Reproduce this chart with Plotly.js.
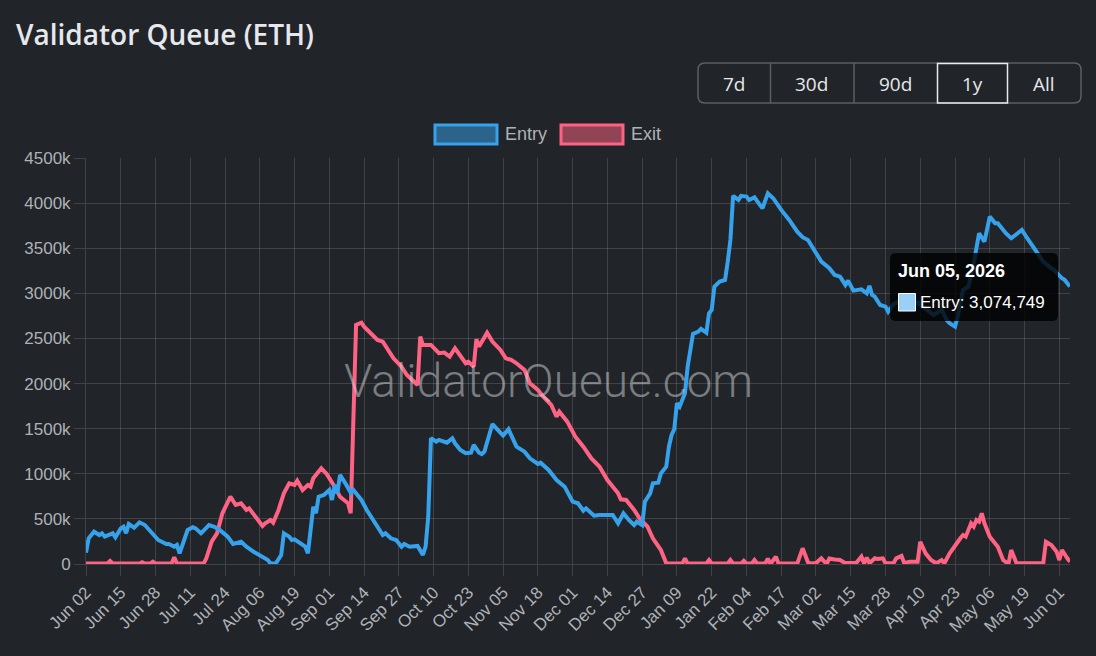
<!DOCTYPE html>
<html><head><meta charset="utf-8">
<script src="https://cdn.plot.ly/plotly-3.0.1.min.js"></script>
<style>html,body{margin:0;padding:0;background:#212428;}#chart{width:1096px;height:656px;}</style>
</head><body><div id="chart"></div>
<script>
// ---- data ----
const entryDates = ["2025-06-02","2025-06-03","2025-06-05","2025-06-07","2025-06-08","2025-06-09","2025-06-12","2025-06-13","2025-06-15","2025-06-16","2025-06-17","2025-06-18","2025-06-20","2025-06-22","2025-06-24","2025-06-27","2025-06-29",
"2025-07-02","2025-07-03","2025-07-05","2025-07-06","2025-07-07","2025-07-10","2025-07-12","2025-07-13","2025-07-15","2025-07-17","2025-07-18","2025-07-20","2025-07-22","2025-07-25","2025-07-27","2025-07-30",
"2025-08-01","2025-08-04","2025-08-06","2025-08-09","2025-08-10","2025-08-12","2025-08-14","2025-08-15","2025-08-17","2025-08-18","2025-08-19","2025-08-21","2025-08-23","2025-08-24","2025-08-26","2025-08-27","2025-08-28","2025-08-30",
"2025-09-01","2025-09-02","2025-09-03","2025-09-04","2025-09-05","2025-09-07","2025-09-09","2025-09-10","2025-09-13","2025-09-15","2025-09-18","2025-09-21","2025-09-22","2025-09-24","2025-09-26","2025-09-28","2025-09-29",
"2025-10-01","2025-10-04","2025-10-05","2025-10-06","2025-10-07","2025-10-08","2025-10-09","2025-10-11","2025-10-12","2025-10-15","2025-10-17","2025-10-18","2025-10-20","2025-10-22","2025-10-24","2025-10-25","2025-10-27","2025-10-28","2025-10-29",
"2025-11-01","2025-11-03","2025-11-05","2025-11-07","2025-11-10","2025-11-13","2025-11-15","2025-11-18","2025-11-19","2025-11-22","2025-11-25","2025-11-28",
"2025-12-01","2025-12-03","2025-12-05","2025-12-06","2025-12-08","2025-12-09","2025-12-11","2025-12-16","2025-12-18","2025-12-20","2025-12-22","2025-12-24","2025-12-25","2025-12-27","2025-12-28","2025-12-30","2025-12-31",
"2026-01-02","2026-01-03","2026-01-05","2026-01-06","2026-01-07","2026-01-08","2026-01-09","2026-01-10","2026-01-12","2026-01-13","2026-01-15","2026-01-17","2026-01-18","2026-01-20","2026-01-21","2026-01-22","2026-01-23","2026-01-25","2026-01-27","2026-01-28","2026-01-29","2026-01-30",
"2026-02-01","2026-02-02","2026-02-04","2026-02-05","2026-02-07","2026-02-09","2026-02-10","2026-02-12","2026-02-14","2026-02-17","2026-02-20","2026-02-23","2026-02-25","2026-02-27",
"2026-03-02","2026-03-04","2026-03-07","2026-03-09","2026-03-11","2026-03-13","2026-03-14","2026-03-16","2026-03-19","2026-03-21","2026-03-22","2026-03-23","2026-03-24","2026-03-26","2026-03-28","2026-03-29","2026-03-31",
"2026-04-03","2026-04-06","2026-04-09","2026-04-12","2026-04-15","2026-04-18","2026-04-20","2026-04-21","2026-04-23","2026-04-24","2026-04-26","2026-04-28","2026-04-30",
"2026-05-02","2026-05-04","2026-05-06","2026-05-08","2026-05-09","2026-05-12","2026-05-14","2026-05-18","2026-05-20","2026-05-23","2026-05-26","2026-05-29","2026-05-30",
"2026-06-02","2026-06-03","2026-06-05"];
const entryValues = [125000,285000,358000,321000,340000,303000,340000,296000,395000,413000,340000,443000,403000,462000,432000,340000,266000,
222000,222000,192000,211000,118000,377000,407000,395000,340000,413000,432000,413000,377000,303000,222000,247000,
192000,130000,100000,44000,5000,8000,100000,340000,303000,266000,273000,229000,192000,118000,635000,562000,746000,765000,
820000,710000,876000,783000,987000,894000,790000,820000,710000,599000,451000,321000,340000,285000,266000,192000,222000,
192000,200000,155000,100000,192000,524000,1393000,1356000,1375000,1345000,1393000,1338000,1264000,1227000,1234000,1319000,1234000,1219000,1245000,
1552000,1486000,1423000,1493000,1300000,1245000,1171000,1109000,1123000,1042000,931000,857000,
691000,673000,591000,617000,562000,535000,543000,543000,451000,562000,488000,432000,469000,432000,691000,783000,894000,
901000,1005000,1079000,1300000,1430000,1493000,1781000,1744000,1892000,2187000,2550000,2575000,2605000,2564000,2779000,2816000,3074000,3130000,3149000,3352000,3592000,4080000,
4035000,4080000,4072000,4035000,4065000,3980000,3943000,4109000,4054000,3925000,3814000,3684000,3622000,3592000,
3445000,3352000,3278000,3204000,3185000,3093000,3141000,3030000,3045000,3001000,3082000,2982000,2963000,2871000,2853000,2797000,2880000,
2920000,2860000,2900000,2830000,2760000,2816000,2700000,2668000,2631000,2742000,3038000,3074000,3334000,
3666000,3574000,3851000,3777000,3777000,3666000,3611000,3703000,3611000,3482000,3352000,3278000,3260000,
3167000,3149000,3074749];

const exitDates = ["2025-06-02","2025-06-10","2025-06-11","2025-06-12","2025-06-22","2025-06-23","2025-06-24","2025-06-26","2025-06-27","2025-06-28",
"2025-07-04","2025-07-05","2025-07-06","2025-07-16","2025-07-17","2025-07-19","2025-07-21","2025-07-23","2025-07-26","2025-07-28","2025-07-30",
"2025-08-01","2025-08-02","2025-08-05","2025-08-07","2025-08-08","2025-08-10","2025-08-11","2025-08-13","2025-08-15","2025-08-17","2025-08-19","2025-08-20","2025-08-22","2025-08-24","2025-08-25","2025-08-26","2025-08-29","2025-08-31",
"2025-09-03","2025-09-05","2025-09-08","2025-09-09","2025-09-11","2025-09-13","2025-09-14","2025-09-17","2025-09-19","2025-09-21","2025-09-23","2025-09-25","2025-09-28","2025-09-30",
"2025-10-02","2025-10-04","2025-10-05","2025-10-06","2025-10-09","2025-10-11","2025-10-12","2025-10-14","2025-10-16","2025-10-18","2025-10-20","2025-10-22","2025-10-23","2025-10-25","2025-10-26","2025-10-27","2025-10-30",
"2025-11-01","2025-11-04","2025-11-06","2025-11-08","2025-11-10","2025-11-13","2025-11-15","2025-11-18","2025-11-20","2025-11-23","2025-11-25","2025-11-26","2025-11-29",
"2025-12-02","2025-12-05","2025-12-08","2025-12-11","2025-12-14","2025-12-16","2025-12-18","2025-12-19","2025-12-21","2025-12-24","2025-12-26","2025-12-29","2025-12-31",
"2026-01-03","2026-01-05","2026-01-11","2026-01-12","2026-01-13","2026-01-20","2026-01-21","2026-01-22","2026-01-28","2026-01-29","2026-01-30",
"2026-02-02","2026-02-03","2026-02-04","2026-02-06","2026-02-07","2026-02-08","2026-02-11","2026-02-12","2026-02-13","2026-02-15","2026-02-16","2026-02-23","2026-02-25","2026-02-27","2026-02-28",
"2026-03-02","2026-03-04","2026-03-06","2026-03-07","2026-03-09","2026-03-11","2026-03-13","2026-03-15","2026-03-17","2026-03-19","2026-03-20","2026-03-21","2026-03-22","2026-03-24","2026-03-25","2026-03-27","2026-03-28","2026-03-31",
"2026-04-01","2026-04-03","2026-04-04","2026-04-06","2026-04-09","2026-04-10","2026-04-12","2026-04-14","2026-04-16","2026-04-18","2026-04-19","2026-04-21","2026-04-23","2026-04-25","2026-04-26","2026-04-27","2026-04-29","2026-04-30",
"2026-05-01","2026-05-02","2026-05-03","2026-05-04","2026-05-06","2026-05-09","2026-05-11","2026-05-13","2026-05-14","2026-05-16","2026-05-26","2026-05-27","2026-05-29","2026-05-31",
"2026-06-01","2026-06-02","2026-06-04","2026-06-05"];
const exitValues = [5000,5000,33000,5000,5000,20000,5000,5000,25000,5000,
5000,74000,5000,5000,63000,247000,340000,562000,746000,654000,673000,
599000,617000,507000,421000,451000,488000,458000,599000,783000,894000,876000,924000,820000,876000,857000,950000,1061000,998000,
857000,746000,673000,562000,2650000,2675000,2631000,2539000,2483000,2465000,2373000,2280000,2187000,2095000,
2040000,1985000,2520000,2428000,2428000,2373000,2336000,2343000,2298000,2391000,2298000,2225000,2243000,2187000,2491000,2410000,2564000,
2465000,2373000,2280000,2262000,2225000,2151000,2003000,1929000,1855000,1763000,1633000,1688000,1578000,
1411000,1300000,1171000,1080000,931000,857000,783000,717000,710000,599000,507000,414000,285000,
155000,8000,5000,63000,5000,5000,44000,5000,5000,44000,5000,
5000,35000,5000,5000,44000,5000,5000,60000,0,81000,5000,5000,174000,20000,5000,
10000,63000,0,60000,50000,45000,10000,10000,10000,81000,8000,70000,8000,63000,55000,63000,8000,8000,
63000,89000,10000,25000,25000,247000,118000,44000,8000,44000,8000,118000,211000,285000,321000,303000,451000,414000,
488000,469000,562000,451000,303000,192000,44000,0,155000,8000,8000,247000,211000,136000,
44000,155000,63000,25000];

const xTickDates = ["2025-06-02","2025-06-15","2025-06-28","2025-07-11","2025-07-24","2025-08-06","2025-08-19","2025-09-01","2025-09-14","2025-09-27","2025-10-10","2025-10-23","2025-11-05","2025-11-18","2025-12-01","2025-12-14","2025-12-27","2026-01-09","2026-01-22","2026-02-04","2026-02-17","2026-03-02","2026-03-15","2026-03-28","2026-04-10","2026-04-23","2026-05-06","2026-05-19","2026-06-01"];
const yTickVals = [0,500000,1000000,1500000,2000000,2500000,3000000,3500000,4000000,4500000];
const yTickText = ["0","500k","1000k","1500k","2000k","2500k","3000k","3500k","4000k","4500k"];
const rangeButtons = ["7d","30d","90d","1y","All"];
const seriesNames = ["Entry","Exit"];
const tooltipDate = "Jun 05, 2026";

// ---- layout helpers (pixel -> paper) ----
const L=86,R=1070,T=158,B=564;
const px=x=>(x-L)/(R-L), py=y=>(B-y)/(B-T);
function rr(x0,y0,x1,y1,r){
  const rx=r/(R-L), ry=r/(B-T);
  const a=px(x0),b=px(x1),c=py(y0),d=py(y1);
  return `M${a+rx},${c} L${b-rx},${c} Q${b},${c} ${b},${c-ry} L${b},${d+ry} Q${b},${d} ${b-rx},${d} L${a+rx},${d} Q${a},${d} ${a},${d+ry} L${a},${c-ry} Q${a},${c} ${a+rx},${c} Z`;
}
function rect(x0,y0,x1,y1,fill,line,lw){
  return {type:'rect',xref:'paper',yref:'paper',x0:px(x0),x1:px(x1),y0:py(y1),y1:py(y0),fillcolor:fill,line:{color:line,width:lw}};
}
function vline(x,y0,y1,col,w){
  return {type:'line',xref:'paper',yref:'paper',x0:px(x),x1:px(x),y0:py(y0),y1:py(y1),line:{color:col,width:w}};
}
function txt(text,x,y,opts){
  return Object.assign({text:text,xref:'paper',yref:'paper',x:px(x),y:py(y),xanchor:'left',yanchor:'middle',showarrow:false,borderpad:0},opts);
}

const BLUE='#36a2eb', PINK='#ff6384', GRID='rgba(255,255,255,0.14)', TICK='#aeb2b7';

const traces = [
  {x:exitDates,y:exitValues,type:'scatter',mode:'lines',name:seriesNames[1],line:{color:PINK,width:4}},
  {x:entryDates,y:entryValues,type:'scatter',mode:'lines',name:seriesNames[0],line:{color:BLUE,width:4}}
];

const shapes = [];
const annotations = [];

// range buttons
shapes.push({type:'path',xref:'paper',yref:'paper',path:rr(698,63,1081,103,7),line:{color:'#5b5f64',width:1.5},fillcolor:'rgba(0,0,0,0)'});
shapes.push(vline(770.5,63,103,'#5b5f64',1.5));
shapes.push(vline(854,63,103,'#5b5f64',1.5));
shapes.push(rect(937.5,63.5,1007.5,103,'rgba(0,0,0,0)','#e8eaed',1.5));
const btnCenters=[734,811.5,895.5,972.5,1044];
rangeButtons.forEach((b,i)=>annotations.push(txt(b,btnCenters[i],84,{xanchor:'center',font:{family:'Open Sans',size:19,color:'#e6e8eb'}})));

// title
annotations.push(txt('Validator Queue (ETH)',15,34,{font:{family:'Open Sans',size:28,weight:600,color:'#e6e8eb'}}));

// legend
shapes.push(rect(435,125,497,144,'rgba(54,162,235,0.5)',BLUE,3));
shapes.push(rect(561,125,623,144,'rgba(255,99,132,0.5)',PINK,3));
annotations.push(txt(seriesNames[0],504,134,{font:{family:'Liberation Sans',size:18,color:TICK}}));
annotations.push(txt(seriesNames[1],630,134,{font:{family:'Liberation Sans',size:18,color:TICK}}));

// watermark
annotations.push(txt('ValidatorQueue.com',548,381,{xanchor:'center',font:{family:'Roboto',size:46,weight:300,color:'rgba(210,212,216,0.5)'}}));

// tooltip
shapes.push({type:'path',xref:'paper',yref:'paper',path:rr(890,253,1058,321,6),line:{width:0},fillcolor:'rgba(0,0,0,0.8)'});
shapes.push(rect(898.5,293.5,915.5,311,'#9ad0f5','#ffffff',1));
annotations.push(txt('<b>'+tooltipDate+'</b>',897,271,{font:{family:'Liberation Sans',size:18,color:'#ffffff'}}));
annotations.push(txt(seriesNames[0]+': '+entryValues[entryValues.length-1].toLocaleString('en-US'),919,302,{font:{family:'Liberation Sans',size:17,color:'#ffffff'}}));

const layout = {
  width:1096,height:656,
  paper_bgcolor:'#212428',plot_bgcolor:'#212428',
  margin:{l:L,r:1096-R,t:T,b:656-B,pad:0},
  showlegend:false,hovermode:false,
  xaxis:{type:'date',range:['2025-06-02','2026-06-05'],tickvals:xTickDates,tickformat:'%b %d',tickangle:-45,
    showgrid:true,gridcolor:GRID,gridwidth:1,zeroline:false,showline:true,linecolor:GRID,linewidth:1,
    ticks:'outside',ticklen:11,tickcolor:GRID,tickwidth:1,tickfont:{family:'Liberation Sans',size:17,color:TICK},fixedrange:true},
  yaxis:{range:[0,4500000],tickvals:yTickVals,ticktext:yTickText,
    showgrid:true,gridcolor:GRID,gridwidth:1,zeroline:false,showline:true,linecolor:GRID,linewidth:1,
    ticks:'outside',ticklen:11,tickcolor:GRID,tickwidth:1,tickfont:{family:'Liberation Sans',size:17,color:TICK},fixedrange:true},
  shapes:shapes,annotations:annotations
};
Plotly.newPlot('chart',traces,layout,{staticPlot:true,displayModeBar:false});
</script></body></html>
